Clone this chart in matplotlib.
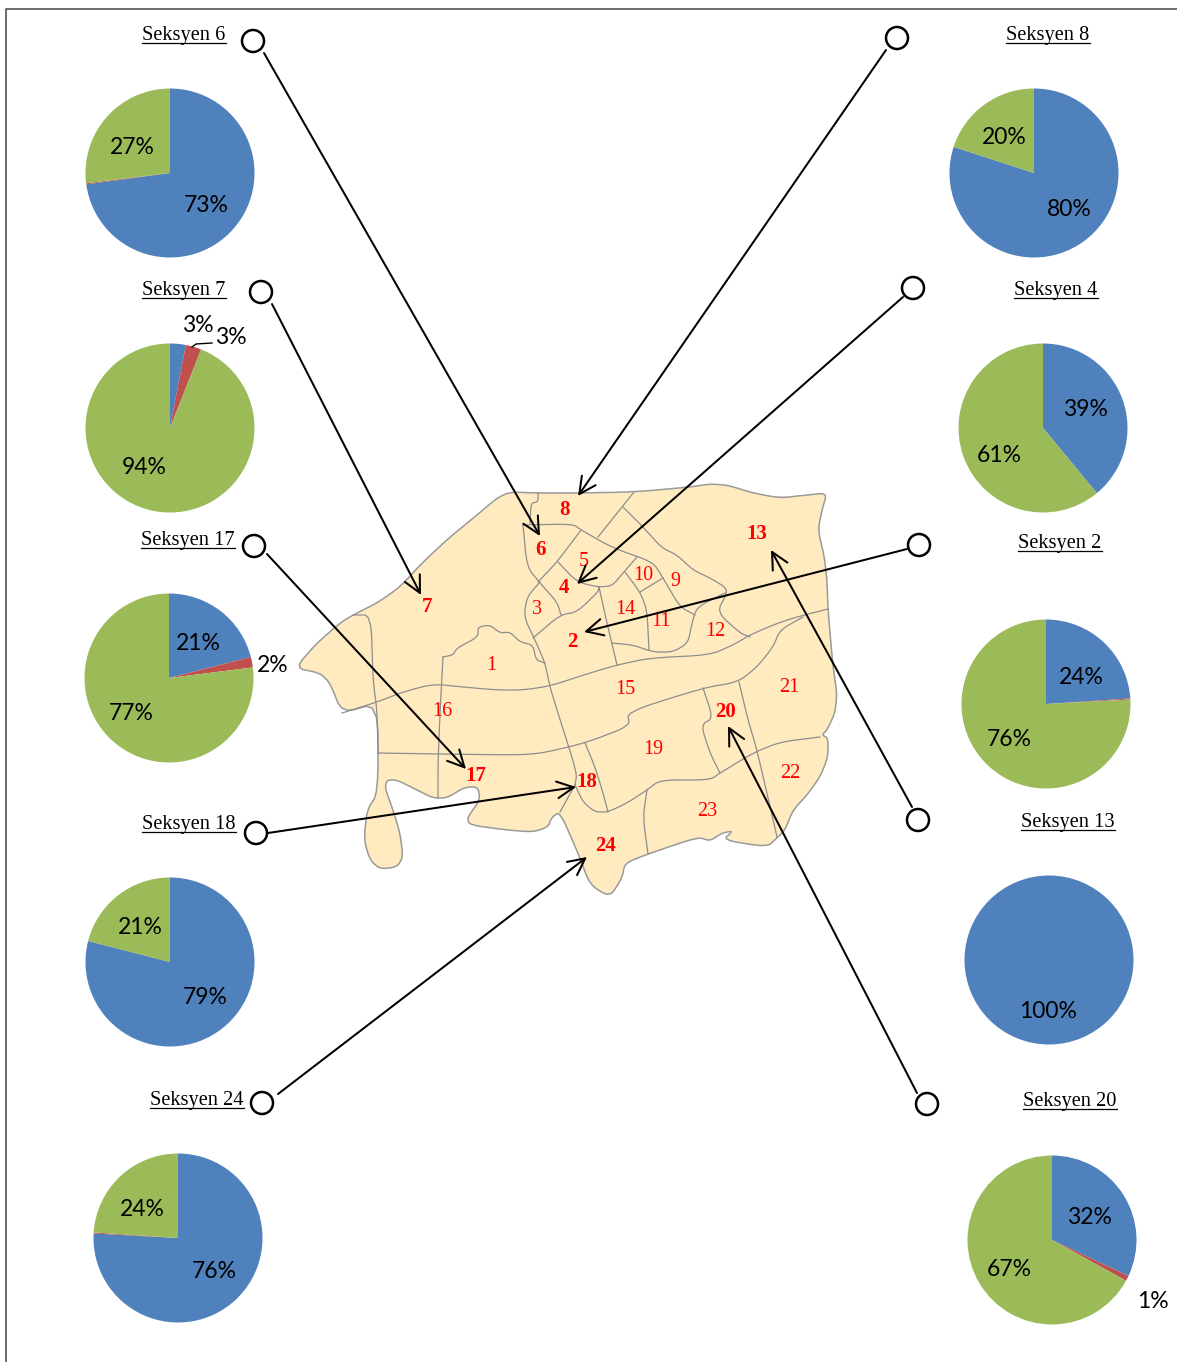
import matplotlib
matplotlib.use("Agg")
import matplotlib.pyplot as plt
from matplotlib.patches import Circle, Polygon

W, H = 1177, 1362

# share of each section: blue, red, green
sections = ["Seksyen 6", "Seksyen 7", "Seksyen 17", "Seksyen 18", "Seksyen 24",
            "Seksyen 8", "Seksyen 4", "Seksyen 2", "Seksyen 13", "Seksyen 20"]
blue = [73, 3, 21, 79, 76, 80, 39, 24, 100, 32]
red = [0.2, 3, 2, 0, 0.2, 0, 0, 0.2, 0, 1]
green = [27, 94, 77, 21, 24, 20, 61, 76, 0, 67]
colors = ["#4F81BD", "#C0504D", "#9BBB59"]

pie_centers = [(170, 173), (170, 428), (169, 678), (170, 962), (178, 1238),
               (1034, 173), (1043, 428), (1046, 704), (1049, 960), (1052, 1240)]
pie_radius = 84.5
title_pos = [(184, 33), (184, 288), (188, 538), (189, 822), (197, 1098),
             (1048, 33), (1056, 288), (1060, 541), (1068, 820), (1070, 1099)]

# where the percent labels go, in the order blue, red, green
blue_lab = [(206, 204), (198, 323), (198, 642), (205, 996), (214, 1270),
            (1069, 208), (1085, 407), (1081, 675), (1048, 1009), (1089, 1215)]
red_lab = [None, (231, 335), (273, 663), None, None, None, None, None, None, (1153, 1299)]
green_lab = [(132, 145), (144, 466), (131, 711), (140, 926), (142, 1207),
             (1004, 135), (999, 453), (1009, 737), None, (1009, 1268)]

# circle markers and the leader arrows going to the map
circles = [(253, 41), (261, 292), (254, 546), (256, 833), (262, 1103),
           (897, 38), (913, 288), (919, 545), (918, 820), (927, 1104)]
arrow_from = [(264, 53), (272, 304), (267, 554), (268, 833), (278, 1094),
              (886, 50), (903, 297), (907, 549), (912, 807), (917, 1093)]
arrow_to = [(540, 536), (421, 595), (466, 769), (576, 787), (587, 857),
            (578, 496), (577, 584), (584, 632), (771, 550), (728, 726)]

# map labels
plain_names = ["1", "3", "5", "9", "10", "11", "12", "14", "15", "16", "19", "21", "22", "23"]
plain_pos = [(491, 664), (537, 607), (584, 560), (675, 580), (643, 574), (661, 620), (715, 630),
             (625, 608), (625, 688), (442, 709), (653, 748), (789, 685), (790, 771), (707, 809)]
bold_names = ["2", "4", "6", "7", "8", "13", "17", "18", "20", "24"]
bold_pos = [(572, 640), (564, 586), (540, 548), (427, 605), (565, 508),
            (757, 532), (476, 774), (587, 780), (726, 710), (605, 844)]

outline = [(295, 668), (317, 643), (340, 623), (353, 615), (377, 603), (400, 587), (423, 562),
           (450, 537), (477, 515), (497, 498), (510, 492), (538, 493), (577, 493), (634, 492),
           (690, 487), (710, 484), (727, 485), (753, 493), (780, 498), (807, 495), (827, 493),
           (822, 510), (818, 530), (824, 555), (827, 580), (828, 610), (833, 667), (837, 693),
           (835, 713), (827, 730), (822, 735), (828, 738), (828, 757), (820, 777), (807, 795),
           (793, 810), (785, 830), (777, 838), (767, 847), (723, 840), (733, 831), (722, 833),
           (710, 841), (698, 837), (648, 854), (625, 863), (622, 878), (610, 897), (590, 885),
           (578, 853), (560, 812), (552, 817), (548, 827), (533, 832), (507, 830), (470, 825),
           (467, 818), (480, 800), (478, 787), (465, 787), (447, 798), (433, 798), (417, 790),
           (397, 780), (387, 780), (385, 788), (393, 810), (400, 833), (403, 857), (397, 867),
           (380, 869), (370, 860), (364, 840), (367, 810), (378, 793), (378, 703), (342, 713),
           (330, 683), (320, 673)]

borders = [
    [(353, 615), (371, 615), (373, 680), (377, 710), (378, 753)],
    [(342, 713), (377, 702), (403, 692), (433, 684), (463, 687), (497, 690), (523, 690), (550, 686),
     (590, 673), (617, 665), (650, 658), (710, 655), (733, 645), (750, 635), (773, 625), (793, 618), (828, 609)],
    [(378, 753), (440, 754), (517, 755), (543, 753), (585, 743), (630, 726), (627, 712), (703, 688),
     (738, 682), (757, 667), (773, 647), (780, 630), (803, 617)],
    [(443, 657), (440, 713), (438, 763), (438, 798)],
    [(443, 657), (453, 655), (457, 648), (478, 637), (478, 627), (490, 625), (500, 633), (510, 632),
     (520, 642), (533, 645), (536, 660), (545, 663)],
    [(538, 493), (538, 502), (531, 503), (530, 523)],
    [(523, 525), (573, 524), (581, 530), (613, 548), (653, 562), (663, 578), (680, 607), (695, 615)],
    [(523, 525), (527, 567), (540, 583), (557, 602), (561, 615)],
    [(540, 582), (527, 597), (524, 617), (535, 640), (545, 663), (550, 687), (557, 710), (577, 773), (575, 785)],
    [(581, 530), (557, 562), (538, 582)],
    [(558, 562), (577, 582), (598, 587), (612, 586), (623, 573), (637, 557)],
    [(533, 638), (560, 615), (577, 612), (598, 592), (599, 587)],
    [(599, 587), (607, 623), (617, 665)],
    [(634, 492), (598, 537)],
    [(623, 507), (643, 527), (662, 548), (677, 555), (693, 570), (710, 578), (725, 587), (727, 593),
     (717, 612), (740, 633), (750, 637)],
    [(625, 572), (640, 592), (647, 610), (649, 650)],
    [(640, 592), (663, 578)],
    [(725, 593), (697, 607), (692, 623), (688, 643), (673, 652), (653, 652), (633, 645), (612, 643)],
    [(585, 743), (595, 767), (603, 793), (608, 812)],
    [(575, 785), (583, 802), (595, 812), (608, 812), (627, 803), (647, 790), (660, 780), (710, 780),
     (720, 773), (753, 753), (780, 742), (820, 737)],
    [(575, 785), (560, 812)],
    [(647, 790), (643, 817), (648, 854)],
    [(703, 688), (713, 718), (701, 725), (710, 753), (720, 773)],
    [(739, 682), (748, 720), (757, 750), (777, 837)],
]


def soften(pts, closed=False, rounds=2, k=0.2):
    # corner cutting so the boundaries do not look faceted
    for _ in range(rounds):
        out = [] if closed else [pts[0]]
        n = len(pts)
        for i in range(n if closed else n - 1):
            a, b = pts[i], pts[(i + 1) % n]
            out.append((a[0] + k * (b[0] - a[0]), a[1] + k * (b[1] - a[1])))
            out.append((b[0] - k * (b[0] - a[0]), b[1] - k * (b[1] - a[1])))
        if not closed:
            out.append(pts[-1])
        pts = out
    return pts


fig = plt.figure(figsize=(W / 100, H / 100), dpi=100, facecolor="white")

# pies get their own small axes
for i, c in enumerate(pie_centers):
    cx, cy = c
    r = pie_radius
    a = fig.add_axes([(cx - r) / W, 1 - (cy + r) / H, 2 * r / W, 2 * r / H])
    a.pie([blue[i], red[i], green[i]], colors=colors, startangle=90, counterclock=False, radius=1)
    a.set_xlim(-1, 1)
    a.set_ylim(-1, 1)
    a.axis("off")

# everything else sits on one axes in pixel units
ax = fig.add_axes([0, 0, 1, 1], facecolor="none")
ax.set_xlim(0, W)
ax.set_ylim(H, 0)
ax.axis("off")

ax.plot([6, 6, W], [H, 9, 9], color="#444444", lw=1.1)

ax.add_patch(Polygon(soften(outline, closed=True), closed=True, facecolor="#FFEBBF",
                     edgecolor="#9A9A9A", lw=1.1, zorder=1))
for b in borders:
    s = soften(b)
    ax.plot([p[0] for p in s], [p[1] for p in s], color="#8E8E8E", lw=0.9, zorder=2)

for name, p in zip(plain_names, plain_pos):
    ax.text(p[0], p[1] + 2, name, color="red", fontsize=14.5, family="Liberation Serif",
            ha="center", va="center", zorder=3)
for name, p in zip(bold_names, bold_pos):
    ax.text(p[0], p[1] + 2, name, color="red", fontsize=15, family="Liberation Serif",
            fontweight="bold", ha="center", va="center", zorder=3)

for c in circles:
    ax.add_patch(Circle(c, 11, facecolor="white", edgecolor="black", lw=1.8, zorder=4))
for s, e in zip(arrow_from, arrow_to):
    ax.annotate("", xy=e, xytext=s, zorder=5,
                arrowprops=dict(arrowstyle="->", color="black", lw=1.45, mutation_scale=30,
                                shrinkA=0, shrinkB=0))

fig.canvas.draw()
rend = fig.canvas.get_renderer()
inv = ax.transData.inverted()
for name, p in zip(sections, title_pos):
    t = ax.text(p[0], p[1] + 2.5, name, fontsize=14.7, family="Liberation Serif", color="black",
                ha="center", va="center", zorder=6)
    bb = t.get_window_extent(rend)
    x0 = inv.transform((bb.x0, 0))[0]
    x1 = inv.transform((bb.x1, 0))[0]
    ax.plot([x0, x1], [p[1] + 10, p[1] + 10], color="black", lw=0.9, zorder=6)

for vals, labs in [(blue, blue_lab), (red, red_lab), (green, green_lab)]:
    for v, p in zip(vals, labs):
        if p is not None:
            ax.text(p[0], p[1] + 2, f"{v:.0f}%", fontsize=16.5, family="Lato", color="black",
                    ha="center", va="center", zorder=6)

# small leader for the second label on Seksyen 7
ax.plot([192, 196, 212], [347, 344, 343], color="black", lw=1, zorder=6)

fig.savefig("out.png", dpi=100)
